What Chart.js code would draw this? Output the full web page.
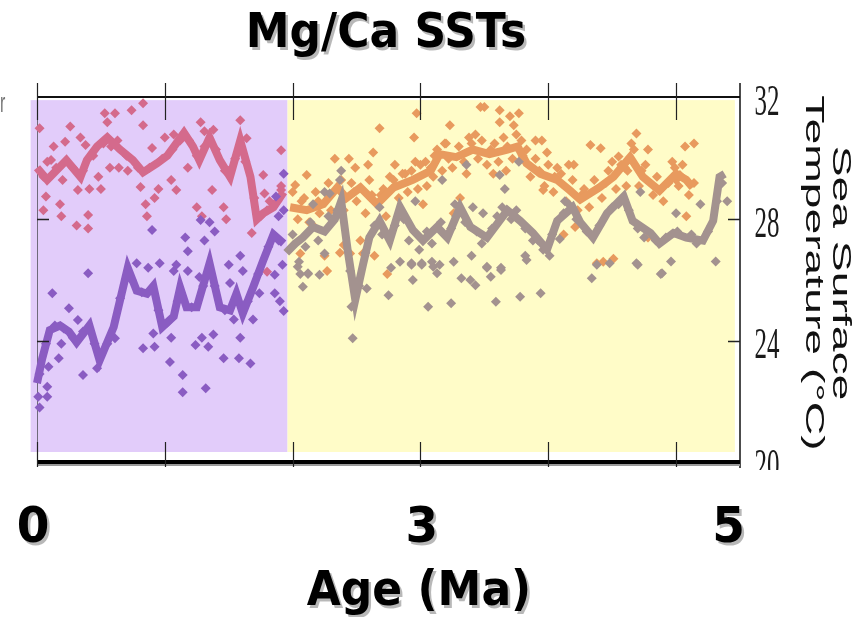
<!DOCTYPE html>
<html>
<head>
<meta charset="utf-8">
<script src="https://cdn.jsdelivr.net/npm/chart.js@4.4.1/dist/chart.umd.min.js"></script>
<style>
  html, body { margin: 0; padding: 0; background: #fff; }
</style>
</head>
<body>
<canvas id="myChart" width="864" height="617"></canvas>
<script>
// smoothed records (age in Ma, SST in degC)
const pinkLineAge = [0, 0.08, 0.23, 0.34, 0.39, 0.47, 0.55, 0.65, 0.75, 0.83, 0.94, 1.02, 1.15, 1.22, 1.27, 1.35, 1.43, 1.51, 1.59, 1.67, 1.72, 1.77, 1.85, 1.93];
const pinkLineSst = [29.7, 29.3, 29.95, 29.4, 29.95, 30.4, 30.7, 30.3, 29.95, 29.55, 29.85, 30.1, 30.85, 30.4, 29.95, 30.7, 29.95, 29.4, 30.6, 29.4, 28.0, 28.2, 28.4, 28.9];

const purpleLineAge = [0, 0.04, 0.1, 0.18, 0.25, 0.31, 0.41, 0.49, 0.6, 0.71, 0.78, 0.86, 0.91, 0.98, 1.07, 1.12, 1.17, 1.25, 1.35, 1.43, 1.51, 1.56, 1.61, 1.69, 1.77, 1.85, 1.93];
const purpleLineSst = [22.6, 23.4, 24.35, 24.5, 24.3, 23.95, 24.5, 23.35, 24.45, 26.4, 25.65, 25.55, 25.8, 24.45, 24.8, 25.75, 25.1, 25.1, 26.55, 25.1, 25.0, 25.55, 24.9, 25.75, 26.65, 27.5, 27.2];

const orangeLineAge = [1.98, 2.11, 2.24, 2.35, 2.42, 2.53, 2.66, 2.79, 2.94, 3.08, 3.15, 3.28, 3.41, 3.54, 3.68, 3.76, 3.83, 3.94, 4.07, 4.17, 4.25, 4.4, 4.51, 4.64, 4.74, 4.87, 5.0, 5.08, 5.13];
const orangeLineSst = [28.4, 28.3, 28.5, 29.05, 28.7, 29.05, 28.5, 29.05, 29.3, 29.6, 30.15, 30.05, 30.3, 30.15, 30.3, 30.4, 29.85, 29.5, 29.3, 28.95, 28.65, 29.05, 29.4, 30.05, 29.4, 28.95, 29.5, 29.3, 29.05];

const grayLineAge = [1.95, 2.02, 2.08, 2.16, 2.25, 2.33, 2.38, 2.43, 2.49, 2.55, 2.6, 2.68, 2.76, 2.84, 2.94, 3.02, 3.13, 3.21, 3.31, 3.39, 3.52, 3.68, 3.78, 3.88, 3.99, 4.07, 4.19, 4.25, 4.35, 4.46, 4.59, 4.66, 4.8, 4.87, 4.98, 5.08, 5.21, 5.29, 5.34, 5.38];
const grayLineSst = [26.9, 27.2, 27.4, 27.75, 27.6, 28.0, 28.6, 27.0, 25.35, 26.5, 27.4, 27.95, 27.3, 28.4, 27.65, 27.3, 27.75, 27.4, 28.4, 27.75, 27.4, 28.3, 27.95, 27.55, 27.0, 27.95, 28.4, 27.9, 27.4, 28.2, 28.75, 27.95, 27.55, 27.2, 27.55, 27.4, 27.3, 27.95, 29.4, 29.5];

// individual measurements [age, sst]
const pinkPoints = [
  [0.02, 31.0], [0.05, 28.3], [0.07, 28.75], [0.11, 29.96], [0.13, 30.4], [0.18, 28.5], [0.19, 28.1], [0.22, 30.56],
  [0.26, 31.06], [0.31, 27.8], [0.32, 28.97], [0.34, 30.7], [0.38, 30.45], [0.4, 28.14], [0.4, 27.7], [0.41, 29.0],
  [0.48, 29.4], [0.5, 29.0], [0.53, 31.5], [0.55, 31.2], [0.57, 29.7], [0.61, 31.5], [0.64, 29.7], [0.71, 29.6],
  [0.74, 31.6], [0.81, 29.07], [0.83, 31.83], [0.83, 31.1], [0.85, 28.5], [0.86, 28.1], [0.9, 30.35], [0.92, 28.7],
  [0.95, 29.0], [1.0, 30.7], [1.05, 29.3], [1.07, 30.8], [1.09, 28.97], [1.18, 29.7], [1.25, 28.4], [1.28, 31.2],
  [1.29, 28.1], [1.31, 30.9], [1.37, 28.97], [1.38, 30.95], [1.46, 28.4], [1.48, 28.0], [1.5, 29.6], [1.59, 31.27],
  [1.64, 30.67], [1.68, 27.55], [1.77, 29.46], [1.78, 28.85], [1.8, 26.27], [1.82, 28.6], [1.91, 30.28], [1.91, 28.97],
  [0.05, 29.4], [0.08, 29.9], [0.15, 29.7], [0.2, 29.3], [0.28, 29.7], [0.36, 29.6], [0.44, 30.1], [0.52, 30.5],
  [0.58, 30.4], [0.63, 30.6], [0.7, 30.1], [0.79, 29.7], [0.88, 29.7], [0.98, 30.0], [1.06, 30.3], [1.12, 30.6],
  [1.19, 30.6], [1.25, 30.1], [1.31, 30.4], [1.4, 30.3], [1.47, 29.6], [1.55, 30.0], [1.63, 29.9], [1.7, 28.7],
  [1.75, 28.1], [1.8, 28.3], [1.88, 28.6], [1.91, 29.1]
];

const purplePoints = [
  [0.01, 22.15], [0.02, 21.8], [0.08, 22.48], [0.08, 22.15], [0.09, 23.14], [0.12, 25.56], [0.17, 23.42], [0.19, 23.9],
  [0.25, 25.07], [0.32, 24.68], [0.36, 22.87], [0.4, 26.22], [0.47, 23.09], [0.61, 24.08], [0.78, 26.55], [0.83, 23.75],
  [0.87, 26.4], [0.91, 24.24], [0.92, 23.8], [0.96, 26.55], [1.04, 23.3], [1.05, 24.1], [1.07, 26.3], [1.09, 26.5],
  [1.14, 22.87], [1.14, 22.3], [1.18, 26.3], [1.24, 23.86], [1.27, 26.1], [1.29, 24.1], [1.32, 22.43], [1.34, 23.8],
  [1.38, 24.2], [1.46, 23.42], [1.5, 26.5], [1.51, 25.9], [1.54, 24.7], [1.58, 23.42], [1.59, 24.1], [1.61, 26.3],
  [1.67, 23.25], [1.69, 24.7], [1.74, 25.56], [1.86, 25.56], [1.86, 26.17], [1.9, 25.3], [1.92, 26.5], [1.93, 24.98],
  [0.9, 27.65], [1.16, 27.4], [1.18, 26.95], [1.28, 27.98], [1.31, 27.3], [1.35, 27.9], [1.39, 27.6], [1.59, 26.8],
  [1.87, 28.75], [1.89, 28.1], [1.93, 28.3], [1.93, 29.5],
  [0.02, 22.9], [0.07, 23.9], [0.14, 24.5], [0.21, 24.4], [0.28, 24.1], [0.36, 24.3], [0.45, 23.9], [0.55, 23.9],
  [0.65, 25.4], [0.74, 26.0], [0.82, 25.6], [0.95, 25.0], [1.02, 24.6], [1.1, 25.3], [1.21, 25.1], [1.3, 25.8],
  [1.39, 25.8], [1.47, 25.0], [1.59, 25.2], [1.65, 25.3], [1.73, 26.2], [1.81, 27.1], [1.89, 27.3]
];

const orangePoints = [
  [2.02, 29.13], [2.06, 26.87], [2.11, 29.46], [2.16, 27.8], [2.25, 26.8], [2.27, 26.3], [2.33, 30.0], [2.37, 26.9],
  [2.4, 27.15], [2.44, 30.0], [2.45, 26.87], [2.49, 29.7], [2.53, 27.3], [2.55, 26.87], [2.59, 29.8], [2.63, 30.2],
  [2.64, 26.8], [2.68, 31.0], [2.71, 29.0], [2.74, 26.2], [2.8, 29.8], [2.88, 29.5], [2.95, 30.7], [2.96, 29.9],
  [2.97, 31.5], [3.02, 28.5], [3.04, 29.9], [3.1, 29.4], [3.13, 30.3], [3.19, 30.5], [3.23, 31.1], [3.26, 28.2],
  [3.31, 28.7], [3.36, 29.5], [3.43, 30.8], [3.47, 31.7], [3.5, 31.7], [3.57, 29.5], [3.62, 31.6], [3.62, 31.2],
  [3.67, 29.6], [3.7, 31.4], [3.73, 31.1], [3.77, 31.5], [3.83, 30.3], [3.9, 30.6], [3.95, 30.6], [3.96, 28.97],
  [3.99, 30.2], [4.07, 29.7], [4.12, 27.5], [4.16, 29.8], [4.2, 29.8], [4.21, 27.75],
  [4.33, 30.45], [4.41, 30.34], [4.38, 26.55], [4.43, 26.6], [4.51, 26.7], [4.5, 29.9], [4.55, 30.07], [4.61, 29.1],
  [4.65, 30.5], [4.69, 30.83], [4.78, 30.3], [4.78, 27.4], [4.99, 29.7], [5.03, 29.46], [5.07, 30.4], [5.14, 30.5],
  [5.14, 29.2], [5.08, 28.1],
  [2.0, 28.9], [2.04, 28.0], [2.07, 28.6], [2.13, 27.9], [2.18, 28.9], [2.21, 28.2], [2.28, 29.2], [2.3, 28.3],
  [2.38, 29.3], [2.4, 28.3], [2.46, 29.2], [2.5, 28.6], [2.57, 28.2], [2.6, 29.3], [2.69, 28.8], [2.73, 28.1],
  [2.76, 29.4], [2.83, 28.7], [2.86, 29.5], [2.9, 28.9], [2.98, 29.0], [3.0, 29.8], [3.05, 29.1], [3.11, 30.1],
  [3.17, 29.6], [3.2, 30.5], [3.25, 29.7], [3.3, 30.4], [3.34, 29.9], [3.38, 30.7], [3.45, 30.0], [3.48, 30.6],
  [3.52, 29.8], [3.58, 30.5], [3.61, 29.9], [3.65, 30.7], [3.72, 30.0], [3.75, 30.8], [3.8, 30.1], [3.86, 29.4],
  [3.9, 30.0], [3.97, 29.1], [4.0, 29.8], [4.04, 28.9], [4.1, 29.5], [4.14, 28.6], [4.19, 29.3], [4.23, 28.3],
  [4.28, 29.0], [4.32, 28.4], [4.36, 29.3], [4.42, 28.7], [4.47, 29.6], [4.53, 29.0], [4.57, 29.8], [4.62, 29.6],
  [4.67, 30.3], [4.71, 29.1], [4.76, 29.8], [4.82, 28.8], [4.85, 29.4], [4.9, 28.6], [4.94, 29.2], [4.97, 29.9],
  [5.02, 29.1], [5.05, 29.8], [5.1, 28.8],
  [2.09, 28.7], [2.2, 28.6], [2.48, 28.9], [2.62, 28.8], [2.79, 29.3], [2.93, 29.6], [3.08, 29.7], [3.22, 30.0],
  [3.4, 30.5], [3.55, 30.3], [3.68, 30.4], [3.79, 30.6], [3.93, 29.6], [4.05, 29.4], [4.26, 28.8], [4.45, 29.2],
  [4.6, 29.7], [4.73, 29.6], [4.88, 29.0], [5.0, 29.3]
];

const grayPoints = [
  [2.06, 26.2], [2.12, 26.2], [2.16, 28.5], [2.25, 28.9], [2.29, 28.85], [2.37, 29.3], [2.38, 29.6], [2.25, 26.87],
  [2.68, 28.4], [2.84, 26.6], [2.93, 26.5], [2.96, 28.6], [3.01, 26.5], [3.09, 26.6], [3.15, 26.5], [3.17, 29.3],
  [3.26, 26.6], [3.27, 28.5], [3.36, 29.8], [3.4, 26.8], [3.41, 28.4], [3.49, 28.2], [3.52, 26.4], [3.62, 29.46],
  [3.63, 26.4], [3.66, 29.0], [3.77, 29.9], [3.82, 26.8], [3.88, 27.3], [4.01, 26.8], [4.09, 27.35], [4.13, 28.6],
  [2.04, 26.44], [2.08, 25.78], [2.12, 26.22], [2.21, 26.17], [2.46, 25.12], [2.47, 24.08], [2.58, 25.72], [2.75, 25.5],
  [2.77, 26.4], [2.93, 26.55], [2.94, 26.0], [3.01, 26.55], [3.06, 25.12], [3.1, 26.44], [3.13, 26.22], [3.24, 25.23],
  [3.32, 26.06], [3.39, 26.0], [3.43, 25.83], [3.52, 26.44], [3.55, 26.11], [3.59, 25.28], [3.63, 26.33], [3.78, 25.45],
  [3.83, 26.66], [3.94, 25.56], [4.34, 26.06], [4.38, 26.5], [4.48, 26.55], [4.7, 26.5], [4.89, 26.22], [4.96, 26.61],
  [5.31, 26.61], [5.4, 28.6], [5.19, 28.5], [5.0, 28.2], [4.72, 28.9], [4.69, 26.55], [4.88, 26.2],
  [2.0, 27.5], [2.05, 26.6], [2.1, 27.1], [2.14, 27.9], [2.2, 27.3], [2.28, 28.1], [2.35, 28.3], [2.45, 26.3],
  [2.52, 25.8], [2.57, 26.9], [2.64, 27.8], [2.7, 27.5], [2.8, 27.8], [2.87, 28.0], [2.91, 27.3], [2.99, 27.0],
  [3.05, 27.6], [3.09, 27.2], [3.16, 27.9], [3.24, 27.7], [3.28, 28.1], [3.35, 27.9], [3.44, 27.6], [3.48, 27.2],
  [3.56, 27.7], [3.6, 28.1], [3.64, 28.4], [3.71, 28.0], [3.75, 28.3], [3.82, 27.7], [3.92, 27.3], [3.96, 27.0],
  [4.03, 27.5], [4.12, 28.2], [4.16, 28.5], [4.22, 28.0], [4.3, 27.6], [4.4, 27.8], [4.5, 28.4], [4.55, 28.5],
  [4.63, 28.3], [4.7, 27.7], [4.75, 27.4], [4.84, 27.3], [4.92, 27.4], [5.01, 27.6], [5.12, 27.5], [5.16, 27.2],
  [5.25, 27.6], [5.32, 28.6], [5.36, 29.2]
];

// shaded periods (Ma) and axis ticks
const bandFrom = [-0.05, 1.96];
const bandTo = [1.96, 5.46];
const bandColors = ['#e2ccfa', '#fffcc8'];
const xTicks = [0, 1, 2, 3, 4, 5];
const yTicks = [20, 24, 28, 32];
const yInnerTicks = [24, 28];
const xLabelText = ['0', '3', '5'];
const xLabelAt = [-0.03, 3.01, 5.41];

const pink = '#d46a8c';
const purple = '#8a5cc2';
const orange = '#e89a5e';
const gray = '#a3928f';

function toXY(ages, ssts) {
  return ages.map((a, i) => ({ x: a, y: ssts[i] }));
}
function pairs(list) {
  return list.map(p => ({ x: p[0], y: p[1] }));
}
function lineSet(data, color, order) {
  return { data: data, showLine: true, borderColor: color, borderWidth: 8, pointRadius: 0, tension: 0, order: order, clip: false };
}
function pointSet(data, color, order) {
  return { data: data, showLine: false, backgroundColor: color, borderWidth: 0, pointStyle: 'rectRot', pointRadius: 5, order: order, clip: false };
}

function drawText(ctx, text, x, y, font, sy, align, shadow) {
  ctx.save();
  ctx.font = font;
  ctx.textAlign = align || 'center';
  ctx.textBaseline = 'alphabetic';
  ctx.translate(x, y);
  ctx.scale(1, sy);
  if (shadow) {
    ctx.fillStyle = 'rgba(0,0,0,0.28)';
    ctx.fillText(text, 2.5, 2.5);
  }
  ctx.fillStyle = '#000';
  ctx.fillText(text, 0, 0);
  ctx.restore();
}

const decorations = {
  id: 'decorations',
  beforeDatasetsDraw(chart) {
    const ctx = chart.ctx;
    const xs = chart.scales.x, ys = chart.scales.y;
    ctx.save();
    const top = ys.getPixelForValue(31.93), bottom = ys.getPixelForValue(20.33);
    for (let i = 0; i < bandFrom.length; i++) {
      const x0 = xs.getPixelForValue(bandFrom[i]);
      const x1 = xs.getPixelForValue(bandTo[i]);
      ctx.fillStyle = bandColors[i];
      ctx.fillRect(x0, top, x1 - x0, bottom - top);
    }
    const a = chart.chartArea;
    ctx.strokeStyle = '#6f6a7a';
    ctx.lineWidth = 1;
    ctx.beginPath();
    ctx.moveTo(a.left + 0.5, a.top - 15);
    ctx.lineTo(a.left + 0.5, a.bottom);
    ctx.stroke();
    ctx.restore();
  },
  afterDraw(chart) {
    const ctx = chart.ctx;
    const xs = chart.scales.x, ys = chart.scales.y;
    const a = chart.chartArea;
    ctx.save();
    // frame
    ctx.strokeStyle = '#111';
    ctx.lineWidth = 2;
    ctx.beginPath();
    ctx.moveTo(a.left, a.top - 1);
    ctx.lineTo(a.right, a.top - 1);
    ctx.stroke();
    ctx.lineWidth = 1.5;
    ctx.beginPath();
    ctx.moveTo(a.right, a.top - 15);
    ctx.lineTo(a.right, a.bottom + 6);
    ctx.stroke();
    ctx.strokeStyle = '#999';
    ctx.lineWidth = 2;
    ctx.beginPath();
    ctx.moveTo(a.left, a.bottom + 3);
    ctx.lineTo(a.right, a.bottom + 3);
    ctx.stroke();
    ctx.strokeStyle = '#000';
    ctx.lineWidth = 4;
    ctx.beginPath();
    ctx.moveTo(a.left, a.bottom);
    ctx.lineTo(a.right, a.bottom);
    ctx.stroke();
    // x ticks (top and bottom)
    ctx.strokeStyle = '#222';
    ctx.lineWidth = 1.2;
    xTicks.forEach(v => {
      const px = Math.round(xs.getPixelForValue(v)) + 0.5;
      ctx.beginPath();
      ctx.moveTo(px, a.top - 15);
      ctx.lineTo(px, a.top + 22);
      ctx.moveTo(px, a.bottom - 20);
      ctx.lineTo(px, a.bottom + 5);
      ctx.stroke();
    });
    // y ticks (left and right, inward)
    ctx.lineWidth = 1.5;
    yInnerTicks.forEach(v => {
      const py = Math.round(ys.getPixelForValue(v)) + 0.5;
      ctx.beginPath();
      ctx.moveTo(a.left, py);
      ctx.lineTo(a.left + 12, py);
      ctx.moveTo(a.right - 12, py);
      ctx.lineTo(a.right, py);
      ctx.stroke();
    });
    // right tick labels (stretched narrow digits)
    ctx.save();
    ctx.beginPath();
    ctx.rect(a.right, 0, chart.width - a.right, a.bottom + 8);
    ctx.clip();
    yTicks.forEach(v => {
      const py = ys.getPixelForValue(v);
      ctx.save();
      ctx.font = '25px "Liberation Sans Narrow"';
      ctx.fillStyle = '#1a1a1a';
      ctx.textAlign = 'center';
      ctx.textBaseline = 'middle';
      ctx.translate(a.right + 27, py + 6);
      ctx.scale(1, 1.75);
      ctx.fillText(String(v), 0, 0);
      ctx.restore();
    });
    // right axis title
    ctx.save();
    ctx.font = '26px "Liberation Sans"';
    ctx.fillStyle = '#111';
    ctx.textAlign = 'center';
    ctx.textBaseline = 'middle';
    ctx.translate(a.right + 87, (a.top + a.bottom) / 2 - 7);
    ctx.scale(1, 1.78);
    ctx.rotate(Math.PI / 2);
    ctx.fillText('Sea Surface', 0, -13.5);
    ctx.fillText('Temperature (\u00B0C)', 0, 13.5);
    ctx.restore();
    ctx.restore();
    // leftover label fragment at the top left
    ctx.save();
    ctx.font = '16px "Liberation Sans"';
    ctx.fillStyle = '#777';
    ctx.textAlign = 'left';
    ctx.translate(0, a.top + 14);
    ctx.scale(1, 1.75);
    ctx.fillText('r', 0, 0);
    ctx.restore();
    // big labels
    drawText(ctx, 'Mg/Ca SSTs', 386, 47, 'bold 44px "DejaVu Sans"', 1.08, 'center', true);
    xLabelText.forEach((t, i) => {
      drawText(ctx, t, xs.getPixelForValue(xLabelAt[i]), a.bottom + 80, 'bold 47px "DejaVu Sans"', 1.05, 'center', true);
    });
    drawText(ctx, 'Age (Ma)', 419, 605, 'bold 44px "DejaVu Sans"', 1.1, 'center', true);
    ctx.restore();
  }
};

new Chart(document.getElementById('myChart'), {
  type: 'scatter',
  data: {
    datasets: [
      lineSet(toXY(grayLineAge, grayLineSst), gray, 1),
      pointSet(pairs(grayPoints), gray, 2),
      lineSet(toXY(purpleLineAge, purpleLineSst), purple, 3),
      pointSet(pairs(purplePoints), purple, 4),
      lineSet(toXY(orangeLineAge, orangeLineSst), orange, 5),
      pointSet(pairs(orangePoints), orange, 6),
      lineSet(toXY(pinkLineAge, pinkLineSst), pink, 7),
      pointSet(pairs(pinkPoints), pink, 8)
    ]
  },
  options: {
    responsive: false,
    animation: false,
    layout: {
      padding: { left: 37, right: 124, top: 98, bottom: 155 }
    },
    plugins: {
      legend: { display: false },
      tooltip: { enabled: false },
      title: { display: false }
    },
    scales: {
      x: { type: 'linear', min: 0, max: 5.5, display: false },
      y: { type: 'linear', min: 20, max: 32, display: false }
    }
  },
  plugins: [decorations]
});
</script>
</body>
</html>
